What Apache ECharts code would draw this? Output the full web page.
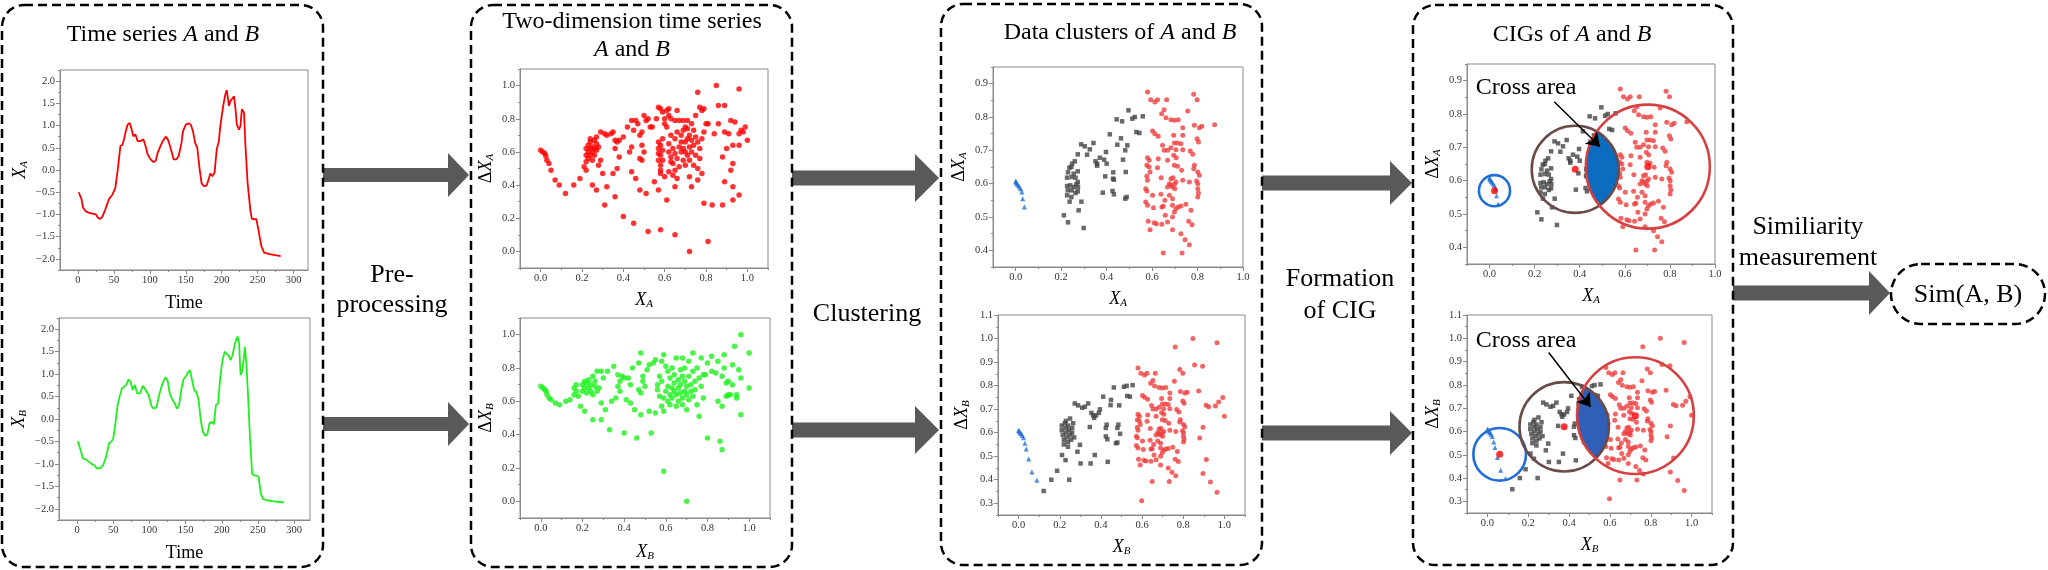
<!DOCTYPE html>
<html>
<head>
<meta charset="utf-8">
<script src="https://cdn.jsdelivr.net/npm/echarts@6.0.0/dist/echarts.min.js"></script>
<style>html,body{margin:0;padding:0;background:#fff}#main{width:2048px;height:570px}</style>
</head>
<body>
<div id="main"></div>
<script>
// time series A and B (time index, value)
var timeA = [1,3,5,7,11,15,20,25,28,31,34,38,43,48,52,56,59,62,64,66,69,72,74,77,80,83,87,91,94,97,101,105,108,111,115,118,122,125,128,131,133,137,140,144,146,148,150,154,157,160,163,166,169,172,175,179,182,184,187,190,193,196,198,202,205,207,210,212,214,217,219,221,224,226,228,231,233,236,240,242,245,248,251,255,259,268,282];
var valueA = [-0.5,-0.5,-0.66,-0.85,-0.93,-0.96,-0.98,-1.0,-1.08,-1.1,-1.05,-0.89,-0.66,-0.55,-0.4,0.09,0.54,0.57,0.69,0.84,1.02,1.06,0.95,0.76,0.8,0.65,0.65,0.69,0.54,0.35,0.24,0.18,0.2,0.39,0.55,0.65,0.75,0.69,0.54,0.37,0.24,0.24,0.31,0.61,0.87,0.84,1.02,1.05,1.02,0.87,0.61,0.5,0.05,-0.3,-0.36,-0.35,-0.2,-0.08,-0.14,-0.06,0.46,0.65,0.99,1.44,1.7,1.8,1.44,1.55,1.51,1.66,1.4,1.02,0.91,0.99,1.37,1.29,0.54,-0.29,-0.93,-1.1,-1.11,-1.1,-1.34,-1.71,-1.86,-1.9,-1.94];
var timeB = [1,2,5,8,12,16,20,24,27,32,36,40,44,47,50,53,56,59,62,65,68,71,74,77,80,83,87,91,95,99,103,106,110,114,118,122,125,128,132,135,138,141,144,147,150,153,156,159,162,165,168,171,174,177,180,183,186,189,192,195,198,201,204,207,210,212,215,218,220,222,224,226,228,230,232,234,236,239,242,245,248,251,254,257,262,270,286];
var valueB = [-0.49,-0.51,-0.7,-0.88,-0.9,-0.95,-1.0,-1.03,-1.1,-1.1,-1.03,-0.85,-0.55,-0.51,-0.44,-0.1,0.31,0.51,0.68,0.72,0.76,0.88,0.83,0.64,0.76,0.57,0.57,0.74,0.64,0.53,0.28,0.23,0.27,0.57,0.79,0.93,0.87,0.57,0.42,0.35,0.23,0.31,0.64,0.88,0.94,1.03,1.09,0.87,0.64,0.6,0.42,-0.03,-0.29,-0.37,-0.35,-0.1,-0.06,-0.12,0.31,0.35,0.94,1.31,1.5,1.45,1.4,1.31,1.42,1.67,1.65,1.84,1.69,0.98,1.05,1.28,1.61,1.24,0.64,-0.4,-1.22,-1.26,-1.26,-1.29,-1.66,-1.78,-1.81,-1.83,-1.86];

// two-dimension series (X, dX)
var twoDimA = [[0.00,0.61],[0.01,0.60],[0.02,0.59],[0.025,0.575],[0.03,0.55],[0.04,0.53],[0.05,0.49],[0.07,0.43],[0.09,0.40],[0.12,0.35],[0.16,0.40],[0.19,0.44],[0.21,0.51],[0.22,0.49],[0.25,0.40],[0.27,0.37],[0.28,0.52],[0.30,0.47],[0.31,0.28],[0.32,0.39],[0.29,0.55],
[0.22,0.62],[0.22,0.58],[0.23,0.60],[0.23,0.64],[0.23,0.56],[0.24,0.62],[0.24,0.58],[0.24,0.66],[0.25,0.60],[0.25,0.63],[0.25,0.55],[0.26,0.62],[0.26,0.67],[0.26,0.58],[0.27,0.61],[0.27,0.65],[0.27,0.69],[0.22,0.54],[0.24,0.68],[0.28,0.63],
[0.29,0.72],[0.31,0.71],[0.32,0.70],[0.34,0.71],[0.35,0.72],[0.36,0.67],[0.37,0.66],[0.38,0.67],[0.36,0.62],[0.35,0.47],[0.37,0.50],[0.38,0.57],[0.36,0.33],[0.40,0.69],[0.40,0.21],[0.42,0.75],[0.44,0.79],[0.45,0.73],[0.46,0.79],[0.47,0.77],[0.44,0.63],[0.43,0.60],[0.44,0.48],[0.46,0.44],[0.48,0.37],[0.45,0.17],[0.48,0.70],[0.49,0.72],[0.48,0.56],[0.49,0.55],[0.49,0.64],[0.50,0.82],[0.52,0.80],[0.51,0.79],[0.53,0.75],[0.54,0.75],[0.51,0.35],[0.52,0.12],[0.55,0.42],[0.56,0.80],[0.50,0.60],
[0.57,0.87],[0.58,0.86],[0.59,0.84],[0.61,0.85],[0.62,0.86],[0.60,0.80],[0.61,0.75],[0.60,0.77],[0.62,0.82],[0.63,0.80],[0.65,0.79],[0.66,0.85],[0.67,0.79],[0.69,0.79],[0.70,0.75],[0.71,0.79],[0.73,0.77],[0.74,0.73],[0.75,0.82],[0.77,0.87],[0.78,0.85],[0.76,0.96],[0.85,1.00],[0.96,0.98],[0.86,0.88],[0.89,0.88],
[0.57,0.66],[0.57,0.62],[0.57,0.59],[0.57,0.55],[0.58,0.64],[0.58,0.58],[0.58,0.52],[0.58,0.49],[0.57,0.37],[0.58,0.47],[0.59,0.68],[0.59,0.61],[0.59,0.55],[0.60,0.45],[0.61,0.31],[0.62,0.48],[0.62,0.60],[0.62,0.65],[0.63,0.54],[0.63,0.70],[0.63,0.57],[0.64,0.62],[0.64,0.53],[0.64,0.46],[0.65,0.49],[0.65,0.68],[0.65,0.59],[0.66,0.72],[0.66,0.56],[0.66,0.44],[0.67,0.63],[0.67,0.51],[0.68,0.60],[0.68,0.66],[0.68,0.70],[0.69,0.55],[0.69,0.62],[0.69,0.73],[0.70,0.60],[0.70,0.66],[0.70,0.52],[0.71,0.68],[0.71,0.58],[0.71,0.74],[0.72,0.63],[0.72,0.55],[0.72,0.70],[0.73,0.60],[0.73,0.67],[0.74,0.52],[0.74,0.64],[0.75,0.58],[0.75,0.69],[0.76,0.50],[0.76,0.66],[0.77,0.62],[0.77,0.56],[0.78,0.68],[0.78,0.47],[0.76,0.43],[0.72,0.45],[0.73,0.39],[0.65,0.39],[0.65,0.10],[0.58,0.13],[0.72,0.0],[0.81,0.06],[0.79,0.29],
[0.79,0.72],[0.80,0.77],[0.81,0.77],[0.79,0.86],[0.83,0.28],[0.88,0.28],[0.88,0.57],[0.89,0.72],[0.90,0.62],[0.89,0.42],[0.91,0.71],[0.92,0.49],[0.93,0.53],[0.92,0.79],[0.94,0.78],[0.93,0.64],[0.93,0.39],[0.93,0.31],[0.96,0.71],[0.97,0.73],[0.98,0.72],[1.00,0.67],[0.96,0.64],[0.96,0.34],[0.99,0.75],[0.86,0.77],[0.84,0.71]];

var twoDimB = [[0.00,0.69],[0.01,0.68],[0.02,0.67],[0.025,0.66],[0.03,0.64],[0.04,0.62],[0.05,0.61],[0.07,0.59],[0.09,0.58],[0.12,0.60],[0.14,0.61],[0.16,0.64],[0.16,0.68],[0.17,0.70],[0.17,0.66],[0.18,0.63],[0.19,0.57],[0.21,0.54],[0.25,0.49],[0.29,0.49],[0.29,0.59],[0.31,0.55],[0.33,0.43],[0.34,0.60],[0.36,0.62],[0.40,0.41],[0.46,0.38],[0.53,0.41],
[0.20,0.66],[0.20,0.70],[0.21,0.72],[0.21,0.68],[0.22,0.65],[0.22,0.71],[0.23,0.68],[0.23,0.73],[0.24,0.66],[0.24,0.70],[0.25,0.75],[0.25,0.64],[0.26,0.69],[0.26,0.72],[0.27,0.66],[0.27,0.78],[0.28,0.68],[0.29,0.78],[0.30,0.74],[0.32,0.78],[0.35,0.81],[0.37,0.76],[0.37,0.69],[0.38,0.66],[0.38,0.72],[0.39,0.75],[0.40,0.74],[0.41,0.61],[0.42,0.74],[0.43,0.59],[0.43,0.70],[0.44,0.80],[0.45,0.55],[0.47,0.67],[0.47,0.83],[0.48,0.89],[0.48,0.65],[0.49,0.72],[0.49,0.75],[0.48,0.52],[0.50,0.69],[0.51,0.79],[0.52,0.82],[0.52,0.54],[0.54,0.83],[0.55,0.85],[0.55,0.53],[0.56,0.67],[0.56,0.70],[0.57,0.75],[0.57,0.63],[0.58,0.72],[0.58,0.84],[0.58,0.57],[0.59,0.88],[0.59,0.54],[0.59,0.62],
[0.60,0.66],[0.60,0.81],[0.61,0.78],[0.61,0.69],[0.61,0.60],[0.62,0.74],[0.62,0.64],[0.62,0.58],[0.63,0.80],[0.63,0.68],[0.63,0.62],[0.64,0.71],[0.64,0.76],[0.64,0.66],[0.65,0.86],[0.65,0.57],[0.65,0.64],[0.66,0.73],[0.66,0.68],[0.66,0.60],[0.67,0.79],[0.67,0.65],[0.67,0.70],[0.68,0.86],[0.68,0.75],[0.68,0.62],[0.68,0.58],[0.69,0.72],[0.69,0.66],[0.69,0.80],[0.70,0.55],[0.70,0.64],[0.70,0.69],[0.71,0.75],[0.71,0.61],[0.71,0.84],[0.72,0.70],[0.72,0.66],[0.73,0.89],[0.73,0.78],[0.73,0.63],[0.74,0.72],[0.74,0.67],[0.75,0.80],[0.75,0.58],[0.76,0.74],[0.76,0.51],[0.77,0.86],[0.77,0.69],[0.78,0.62],[0.78,0.76],[0.79,0.76],
[0.80,0.83],[0.80,0.38],[0.82,0.87],[0.82,0.78],[0.84,0.77],[0.85,0.84],[0.85,0.60],[0.86,0.36],[0.87,0.57],[0.87,0.75],[0.87,0.31],[0.88,0.80],[0.88,0.88],[0.89,0.71],[0.89,0.63],[0.90,0.72],[0.90,0.64],[0.91,0.64],[0.92,0.70],[0.92,0.82],[0.93,0.93],[0.94,0.64],[0.94,0.62],[0.95,0.79],[0.96,0.74],[0.96,1.00],[0.96,0.52],[1.00,0.68],[1.00,0.89],[0.59,0.18],[0.70,0.00]];

// clusters of A
var blueA = [[0.0,0.608],[0.001,0.605],[0.004,0.602],[0.007,0.598],[0.012,0.595],[0.016,0.59],[0.022,0.585],[0.027,0.575],[0.031,0.555],[0.038,0.53]];
var grayA = [[0.496,0.82],[0.524,0.80],[0.513,0.795],[0.559,0.802],[0.444,0.793],[0.468,0.787],[0.531,0.755],[0.544,0.752],[0.414,0.748],[0.463,0.736],[0.342,0.722],[0.288,0.718],[0.304,0.712],[0.326,0.703],[0.273,0.688],[0.314,0.687],[0.447,0.717],[0.491,0.715],[0.397,0.695],[0.370,0.678],[0.351,0.667],[0.389,0.672],[0.358,0.654],[0.260,0.667],[0.248,0.66],[0.482,0.70],[0.472,0.672],[0.236,0.648],[0.245,0.65],[0.273,0.637],[0.230,0.634],[0.255,0.63],[0.226,0.618],[0.246,0.62],[0.263,0.618],[0.273,0.605],[0.226,0.593],[0.240,0.595],[0.255,0.59],[0.267,0.598],[0.274,0.59],[0.229,0.58],[0.246,0.58],[0.273,0.577],[0.263,0.572],[0.226,0.565],[0.245,0.56],[0.237,0.546],[0.289,0.546],[0.277,0.52],[0.212,0.505],[0.230,0.484],[0.299,0.467],[0.394,0.622],[0.429,0.634],[0.428,0.615],[0.432,0.612],[0.484,0.635],[0.383,0.573],[0.426,0.578],[0.432,0.568],[0.482,0.555],[0.488,0.56],[0.358,0.66],[0.400,0.66]];
var redA = [[0.580,0.875],[0.594,0.852],[0.612,0.845],[0.624,0.852],[0.664,0.852],[0.783,0.868],[0.798,0.852],[0.653,0.822],[0.642,0.81],[0.661,0.798],[0.683,0.792],[0.698,0.79],[0.715,0.792],[0.757,0.818],[0.735,0.768],[0.786,0.775],[0.808,0.768],[0.819,0.772],[0.875,0.777],[0.602,0.758],[0.612,0.75],[0.627,0.742],[0.695,0.745],[0.735,0.745],[0.798,0.735],[0.804,0.725],[0.698,0.722],[0.712,0.722],[0.727,0.72],[0.653,0.70],[0.668,0.70],[0.646,0.715],[0.683,0.708],[0.705,0.702],[0.735,0.702],[0.768,0.698],[0.779,0.688],[0.580,0.678],[0.587,0.67],[0.577,0.655],[0.627,0.675],[0.668,0.67],[0.695,0.685],[0.706,0.678],[0.587,0.65],[0.624,0.648],[0.577,0.622],[0.591,0.635],[0.698,0.655],[0.712,0.652],[0.730,0.64],[0.786,0.655],[0.783,0.645],[0.801,0.635],[0.808,0.625],[0.580,0.61],[0.640,0.618],[0.683,0.615],[0.692,0.618],[0.676,0.60],[0.683,0.595],[0.698,0.598],[0.705,0.605],[0.690,0.59],[0.700,0.585],[0.668,0.59],[0.735,0.61],[0.764,0.605],[0.796,0.608],[0.801,0.60],[0.801,0.585],[0.572,0.585],[0.577,0.578],[0.602,0.565],[0.572,0.545],[0.580,0.535],[0.606,0.528],[0.639,0.568],[0.656,0.55],[0.643,0.53],[0.649,0.532],[0.676,0.565],[0.690,0.555],[0.690,0.535],[0.705,0.525],[0.715,0.53],[0.727,0.533],[0.749,0.538],[0.771,0.52],[0.658,0.505],[0.668,0.485],[0.690,0.50],[0.698,0.515],[0.801,0.56],[0.804,0.572],[0.583,0.487],[0.591,0.462],[0.609,0.483],[0.619,0.48],[0.643,0.478],[0.690,0.462],[0.727,0.45],[0.761,0.487],[0.776,0.477],[0.745,0.432],[0.764,0.417],[0.649,0.392],[0.732,0.392]];

// clusters of B
var blueB = [[0.0,0.61],[0.003,0.607],[0.005,0.603],[0.01,0.598],[0.013,0.595],[0.018,0.588],[0.024,0.578],[0.031,0.555],[0.037,0.531],[0.049,0.488],[0.065,0.433],[0.089,0.398]];
var grayB = [[0.21,0.63],[0.21,0.61],[0.215,0.59],[0.22,0.57],[0.22,0.55],[0.225,0.64],[0.23,0.62],[0.23,0.60],[0.235,0.58],[0.24,0.56],[0.24,0.63],[0.245,0.61],[0.25,0.59],[0.25,0.66],[0.255,0.57],[0.26,0.62],[0.26,0.60],[0.265,0.64],[0.27,0.58],[0.23,0.65],[0.24,0.54],
[0.122,0.352],[0.159,0.40],[0.187,0.438],[0.211,0.505],[0.228,0.483],[0.246,0.40],[0.273,0.724],[0.289,0.716],[0.309,0.706],[0.322,0.71],[0.338,0.724],[0.354,0.684],[0.363,0.673],[0.346,0.624],[0.35,0.469],[0.298,0.548],[0.286,0.519],[0.301,0.469],[0.367,0.663],[0.376,0.673],[0.39,0.684],[0.395,0.699],[0.411,0.753],[0.424,0.62],[0.424,0.584],[0.428,0.634],[0.431,0.572],[0.447,0.717],[0.449,0.739],[0.463,0.792],[0.48,0.62],[0.485,0.634],[0.489,0.716],[0.493,0.595],[0.473,0.555],[0.48,0.558],[0.433,0.476],[0.512,0.795],[0.525,0.799],[0.528,0.756],[0.541,0.753],[0.554,0.802],[0.37,0.505]];
var redExtraB = [[0.761,0.964],[0.847,1.0],[0.964,0.982],[0.855,0.888],[0.894,0.882],[0.598,0.311],[0.964,0.347],[0.932,0.39],[0.896,0.426],[0.912,0.486],[0.88,0.577],[0.896,0.623],[0.911,0.716],[0.924,0.71],[0.956,0.713],[0.972,0.73],[0.992,0.749],[1.0,0.67]];
var redB = redA.concat(redExtraB);

// CIG circles: centres and radii (radius in x units)
var cigCentersA = [[0.022,0.57],[0.38,0.634],[0.702,0.642]];
var cigRadiiA = [0.069,0.193,0.275];
var cigCentersB = [[0.06,0.502],[0.376,0.62],[0.725,0.668]];
var cigRadiiB = [0.129,0.219,0.286];

// tick labels
var timeTicks = [0,50,100,150,200,250,300];
var timeMinor = [25,75,125,175,225,275];
var valTicks = [-2,-1.5,-1,-0.5,0,0.5,1,1.5,2];
var valMinor = [-2.25,-1.75,-1.25,-0.75,-0.25,0.25,0.75,1.25,1.75,2.25];
var unitTicks = [0,0.2,0.4,0.6,0.8,1.0];
var unitMinor = [-0.1,0.1,0.3,0.5,0.7,0.9,1.1];
var unitMinorShort = [-0.1,0.1,0.3,0.5,0.7,0.9];
var clusterYTicksA = [0.4,0.5,0.6,0.7,0.8,0.9];
var clusterYMinorA = [0.35,0.45,0.55,0.65,0.75,0.85,0.95];
var clusterYTicksB = [0.3,0.4,0.5,0.6,0.7,0.8,0.9,1.0,1.1];
var clusterYMinorB = [0.25,0.35,0.45,0.55,0.65,0.75,0.85,0.95,1.05];

var F = "'Liberation Serif','Times New Roman',serif";
var myChart = echarts.init(document.getElementById('main'));

var grids = [], xAxes = [], yAxes = [], series = [];
var nameRich = {
  i: {fontFamily: F, fontStyle: 'italic', fontSize: 18, color: '#000'},
  n: {fontFamily: F, fontSize: 18, color: '#000'},
  s: {fontFamily: F, fontStyle: 'italic', fontSize: 11, color: '#000', padding: [9, 0, 0, 0]}
};
function fmt1(v) { return (v < 0 ? '\u2212' : '') + Math.abs(v).toFixed(1); }
function fmt0(v) { return String(v); }

function addGrid(box, xr, yr, xt, xm, yt, ym, xName, yName, xGap, yGap, xf) {
  var gi = grids.length;
  grids.push({left: box[0], top: box[1], width: box[2], height: box[3], show: true, borderColor: '#8a8a8a', borderWidth: 1});
  var common = {
    gridIndex: gi, type: 'value', splitLine: {show: false},
    axisLine: {show: true, onZero: false, lineStyle: {color: '#8a8a8a', width: 1}}
  };
  var minorLine = {show: false, onZero: false};
  xAxes.push(Object.assign({}, common, {
    min: xr[0], max: xr[1], position: 'bottom',
    axisTick: {show: true, length: 4, customValues: xt, lineStyle: {color: '#8a8a8a'}},
    axisLabel: {customValues: xt, formatter: xf, fontFamily: F, fontSize: 10.5, color: '#333', margin: 5},
    name: xName, nameLocation: 'middle', nameGap: xGap,
    nameTextStyle: {fontFamily: F, fontSize: 18, color: '#000', rich: nameRich}
  }));
  xAxes.push({gridIndex: gi, type: 'value', min: xr[0], max: xr[1], position: 'bottom',
    axisLine: minorLine, splitLine: {show: false}, axisLabel: {show: false},
    axisTick: {show: true, length: 2, customValues: xm, lineStyle: {color: '#8a8a8a'}}});
  yAxes.push(Object.assign({}, common, {
    min: yr[0], max: yr[1], position: 'left',
    axisTick: {show: true, length: 4, customValues: yt, lineStyle: {color: '#8a8a8a'}},
    axisLabel: {customValues: yt, formatter: fmt1, fontFamily: F, fontSize: 10.5, color: '#333', margin: 5},
    name: yName, nameLocation: 'middle', nameGap: yGap,
    nameTextStyle: {fontFamily: F, fontSize: 18, color: '#000', rich: nameRich}
  }));
  yAxes.push({gridIndex: gi, type: 'value', min: yr[0], max: yr[1], position: 'left',
    axisLine: minorLine, splitLine: {show: false}, axisLabel: {show: false},
    axisTick: {show: true, length: 2, customValues: ym, lineStyle: {color: '#8a8a8a'}}});
  return gi;
}

function zip(a, b) { return a.map(function (t, i) { return [t, b[i]]; }); }

function scatter(gi, data, symbol, size, color, extra) {
  return Object.assign({type: 'scatter', xAxisIndex: 2 * gi, yAxisIndex: 2 * gi, data: data,
    symbol: symbol, symbolSize: size, itemStyle: {color: color}, silent: true, z: 2}, extra || {});
}

function circleSeries(gi, centers, radii, colors) {
  return {
    type: 'custom', xAxisIndex: 2 * gi, yAxisIndex: 2 * gi, silent: true, z: 4,
    data: centers.map(function (c, i) { return [c[0], c[1], radii[i]]; }),
    renderItem: function (params, api) {
      var p = api.coord([api.value(0), api.value(1)]);
      var r = api.size([api.value(2), 0])[0];
      return {type: 'circle', shape: {cx: p[0], cy: p[1], r: r},
        style: {fill: 'none', stroke: colors[params.dataIndex], lineWidth: 2.6}};
    }
  };
}

function lensPolygon(p1, r1, p2, r2) {
  var dx = p2[0] - p1[0], dy = p2[1] - p1[1], d = Math.sqrt(dx * dx + dy * dy);
  var th = Math.atan2(dy, dx);
  var a1 = Math.acos((r1 * r1 + d * d - r2 * r2) / (2 * r1 * d));
  var a2 = Math.acos((r2 * r2 + d * d - r1 * r1) / (2 * r2 * d));
  var pts = [], n = 48, k, ang;
  for (k = 0; k <= n; k++) { ang = th - a1 + 2 * a1 * k / n; pts.push([p1[0] + r1 * Math.cos(ang), p1[1] + r1 * Math.sin(ang)]); }
  for (k = 0; k <= n; k++) { ang = th + Math.PI - a2 + 2 * a2 * k / n; pts.push([p2[0] + r2 * Math.cos(ang), p2[1] + r2 * Math.sin(ang)]); }
  return pts;
}

function lensSeries(gi, centers, radii, color) {
  return {
    type: 'custom', xAxisIndex: 2 * gi, yAxisIndex: 2 * gi, silent: true, z: 3,
    data: [[centers[1][0], centers[1][1], radii[1], centers[2][0], centers[2][1], radii[2]]],
    renderItem: function (params, api) {
      var p1 = api.coord([api.value(0), api.value(1)]), r1 = api.size([api.value(2), 0])[0];
      var p2 = api.coord([api.value(3), api.value(4)]), r2 = api.size([api.value(5), 0])[0];
      return {type: 'polygon', shape: {points: lensPolygon(p1, r1, p2, r2)}, style: {fill: color}};
    }
  };
}

var XA = '{i|X}{s|A}', XB = '{i|X}{s|B}', DXA = '{n|\u0394}{i|X}{s|A}', DXB = '{n|\u0394}{i|X}{s|B}';
var g1 = addGrid([60, 70, 248, 200], [-25, 320], [-2.25, 2.25], timeTicks, timeMinor, valTicks, valMinor, 'Time', XA, 24, 30, fmt0);
var g2 = addGrid([59, 318, 251, 202], [-25, 322], [-2.25, 2.25], timeTicks, timeMinor, valTicks, valMinor, 'Time', XB, 24, 30, fmt0);
var g3 = addGrid([520, 69, 248, 199], [-0.1, 1.1], [-0.1, 1.1], unitTicks, unitMinor, unitTicks, unitMinor, XA, DXA, 22, 24, fmt1);
var g4 = addGrid([520, 318, 250, 200], [-0.1, 1.1], [-0.1, 1.1], unitTicks, unitMinor, unitTicks, unitMinor, XB, DXB, 24, 24, fmt1);
var g5 = addGrid([993, 67, 250, 200], [-0.1, 1.0], [0.35, 0.95], unitTicks, unitMinorShort, clusterYTicksA, clusterYMinorA, XA, DXA, 22, 24, fmt1);
var g6 = addGrid([998, 315, 247, 200], [-0.1, 1.1], [0.25, 1.1], unitTicks, unitMinor, clusterYTicksB, clusterYMinorB, XB, DXB, 22, 26, fmt1);
var g7 = addGrid([1467, 64, 248, 200], [-0.1, 1.0], [0.35, 0.95], unitTicks, unitMinorShort, clusterYTicksA, clusterYMinorA, XA, DXA, 22, 24, fmt1);
var g8 = addGrid([1467, 315, 245, 198], [-0.1, 1.1], [0.25, 1.1], unitTicks, unitMinor, clusterYTicksB, clusterYMinorB, XB, DXB, 22, 24, fmt1);

var RED = '#ef3e3e', GRAY = '#444444', BLUE = '#1f6fd6';

series.push({type: 'line', xAxisIndex: 0, yAxisIndex: 0, data: zip(timeA, valueA), showSymbol: false, symbol: 'none',
  lineStyle: {color: '#ff0000', width: 1.8}, silent: true});
series.push({type: 'line', xAxisIndex: 2 * g2, yAxisIndex: 2 * g2, data: zip(timeB, valueB), showSymbol: false, symbol: 'none',
  lineStyle: {color: '#1ef01e', width: 1.8}, silent: true});
series.push(scatter(g3, twoDimA, 'circle', 5.5, '#ff0000'));
series.push(scatter(g4, twoDimB, 'circle', 5.5, '#1ef01e'));

[[g5, blueA, grayA, redA], [g6, blueB, grayB, redB], [g7, blueA, grayA, redA], [g8, blueB, grayB, redB]].forEach(function (c) {
  series.push(scatter(c[0], c[3], 'circle', 5, RED));
  series.push(scatter(c[0], c[2], 'rect', 4.5, GRAY));
  series.push(scatter(c[0], c[1], 'triangle', 5, BLUE));
});

var cigColors = [BLUE, '#6b4a4a', '#d64040'];
series.push(lensSeries(g7, cigCentersA, cigRadiiA, '#0b6cc0'));
series.push(lensSeries(g8, cigCentersB, cigRadiiB, '#2f5fb6'));
series.push(circleSeries(g7, cigCentersA, cigRadiiA, cigColors));
series.push(circleSeries(g8, cigCentersB, cigRadiiB, cigColors));

function arrowMark(from, to) {
  return {silent: true, symbol: ['none', 'arrow'], symbolSize: 13, animation: false,
    lineStyle: {color: '#000', width: 1.5, type: 'solid'}, label: {show: false}, emphasis: {disabled: true},
    data: [[{coord: from}, {coord: to}]]};
}
series.push(scatter(g7, cigCentersA, 'circle', 7, '#ff0000', {z: 5, markLine: arrowMark([0.287, 0.837], [0.49, 0.702])}));
series.push(scatter(g8, cigCentersB, 'circle', 7, '#ff0000', {z: 5, markLine: arrowMark([0.30, 0.939], [0.506, 0.705])}));

// layout graphics: dashed frames, block arrows, captions
var graphic = [];
function box(x0, y0, x1, y1, r) {
  graphic.push({type: 'rect', shape: {x: x0, y: y0, width: x1 - x0, height: y1 - y0, r: r},
    style: {fill: 'none', stroke: '#000', lineWidth: 2.5, lineDash: [9, 5]}, z: 10});
}
function bigArrow(x0, x1, cy, sh, hl, hh) {
  var xb = x1 - hl;
  graphic.push({type: 'polygon', shape: {points: [[x0, cy - sh], [xb, cy - sh], [xb, cy - hh], [x1, cy], [xb, cy + hh], [xb, cy + sh], [x0, cy + sh]]},
    style: {fill: '#595959'}, z: 9});
}
function text(str, x, y, size) {
  graphic.push({type: 'text', x: x, y: y, z: 11,
    style: {text: str, fontFamily: F, fontSize: size, fill: '#000', align: 'center', verticalAlign: 'middle',
      rich: {i: {fontFamily: F, fontSize: size, fontStyle: 'italic', fill: '#000'}}}});
}
box(2, 5, 323, 567, 22);
box(471, 5, 792, 567, 22);
box(941, 4, 1262, 565, 22);
box(1413, 5, 1733, 565, 22);
box(1891, 264, 2045, 324, 30);

bigArrow(323, 469, 175, 7, 21, 22);
bigArrow(323, 469, 424, 7, 21, 22);
bigArrow(792, 939, 178, 7.5, 24, 24);
bigArrow(792, 939, 430, 7.5, 24, 24);
bigArrow(1262, 1412, 183, 7.5, 22, 22);
bigArrow(1262, 1412, 433, 7.5, 22, 22);
bigArrow(1733, 1890, 293, 7.5, 21, 22);

text('Time series {i|A} and {i|B}', 163, 35, 24);
text('Two-dimension time series', 632, 22, 24);
text('{i|A} and {i|B}', 632, 50, 24);
text('Data clusters of {i|A} and {i|B}', 1120, 33, 24);
text('CIGs of {i|A} and {i|B}', 1572, 35, 24);
text('Pre-', 392, 275, 26);
text('processing', 392, 305, 26);
text('Clustering', 867, 314, 26);
text('Formation', 1340, 279, 26);
text('of CIG', 1340, 311, 26);
text('Similiarity', 1808, 227, 26);
text('measurement', 1808, 258, 26);
text('Sim(A, B)', 1968, 295, 26);
text('Cross area', 1526, 88, 24);
text('Cross area', 1526, 341, 24);

var option = {
  animation: false,
  backgroundColor: '#fff',
  grid: grids,
  xAxis: xAxes,
  yAxis: yAxes,
  series: series,
  graphic: graphic
};
myChart.setOption(option);
</script>
</body>
</html>
